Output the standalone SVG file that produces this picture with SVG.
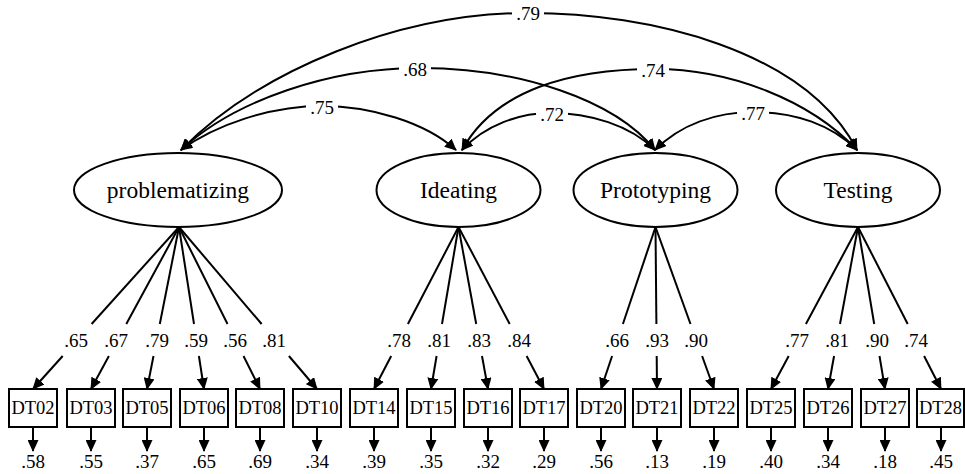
<svg xmlns="http://www.w3.org/2000/svg" width="965" height="474" viewBox="0 0 965 474" font-family="'Liberation Serif', 'DejaVu Serif', 'Times New Roman', serif">
<defs>
<marker id="ah" viewBox="0 0 12 11" refX="11" refY="5.5" markerWidth="12" markerHeight="11" markerUnits="userSpaceOnUse" orient="auto-start-reverse">
<path d="M0,0 L12,5.5 L0,11 z" fill="#000"/>
</marker>
</defs>
<style>
.lat{fill:#fff;stroke:#000;stroke-width:2}
.ind{fill:#fff;stroke:#000;stroke-width:2}
.lt{font-size:23.5px;text-anchor:middle}
.it{font-size:18.5px;text-anchor:middle}
.n{font-size:19px;text-anchor:middle}
.c{fill:none;stroke:#000;stroke-width:2}
.a{marker-end:url(#ah)}
.d{marker-start:url(#ah);marker-end:url(#ah)}
.bg{fill:#fff}
</style>
<rect width="965" height="474" fill="#fff"/>

<g id="connectors">
<path class="c d" d="M181,150 C260,70 400,13 528,13 C650,13 805,50 857,150"/>
<path class="c d" d="M181,150 C235,100 330,68 420,68 C520,68 615,100 655,150"/>
<path class="c d" d="M181,150 C215,125 270,106 322,106 C370,106 425,122 456,150"/>
<path class="c d" d="M462,150 C495,90 570,69 655,69 C730,69 810,100 857,150"/>
<path class="c d" d="M462,150 C485,125 520,113 550,113 C590,113 630,125 655,150"/>
<path class="c d" d="M655,150 C680,125 715,112 755,112 C795,112 832,125 857,150"/>
<rect class="bg" x="512" y="4" width="32" height="18"/><text class="n" x="528" y="20">.79</text>
<rect class="bg" x="399" y="59" width="32" height="18"/><text class="n" x="415" y="76">.68</text>
<rect class="bg" x="306" y="97" width="32" height="18"/><text class="n" x="322" y="114">.75</text>
<rect class="bg" x="637" y="60" width="32" height="18"/><text class="n" x="653" y="77">.74</text>
<rect class="bg" x="536" y="104" width="32" height="18"/><text class="n" x="552" y="121">.72</text>
<rect class="bg" x="737" y="103" width="32" height="18"/><text class="n" x="753" y="120">.77</text>

<line class="c" x1="179" y1="227" x2="91.6" y2="324"/><line class="c a" x1="62.7" y1="356" x2="33" y2="389"/>
<line class="c" x1="179" y1="227" x2="126.3" y2="324"/><line class="c a" x1="108.9" y1="356" x2="91" y2="389"/>
<line class="c" x1="179" y1="227" x2="159.8" y2="324"/><line class="c a" x1="153.5" y1="356" x2="147" y2="389"/>
<line class="c" x1="179" y1="227" x2="194" y2="324"/><line class="c a" x1="198.9" y1="356" x2="204" y2="389"/>
<line class="c" x1="179" y1="227" x2="227.5" y2="324"/><line class="c a" x1="243.5" y1="356" x2="260" y2="389"/>
<line class="c" x1="179" y1="227" x2="261.6" y2="324"/><line class="c a" x1="288.9" y1="356" x2="317" y2="389"/>
<text class="n" x="76" y="347">.65</text>
<text class="n" x="116" y="347">.67</text>
<text class="n" x="157" y="347">.79</text>
<text class="n" x="196" y="347">.59</text>
<text class="n" x="235" y="347">.56</text>
<text class="n" x="274" y="347">.81</text>

<line class="c" x1="458.5" y1="227" x2="407.9" y2="324"/><line class="c a" x1="391.2" y1="356" x2="374" y2="389"/>
<line class="c" x1="458.5" y1="227" x2="442" y2="324"/><line class="c a" x1="436.6" y1="356" x2="431" y2="389"/>
<line class="c" x1="458.5" y1="227" x2="476.2" y2="324"/><line class="c a" x1="482" y1="356" x2="488" y2="389"/>
<line class="c" x1="458.5" y1="227" x2="509.7" y2="324"/><line class="c a" x1="526.6" y1="356" x2="544" y2="389"/>
<text class="n" x="399" y="347">.78</text>
<text class="n" x="439" y="347">.81</text>
<text class="n" x="479" y="347">.83</text>
<text class="n" x="519" y="347">.84</text>

<line class="c" x1="655.5" y1="227" x2="622.9" y2="324"/><line class="c a" x1="612.1" y1="356" x2="601" y2="389"/>
<line class="c" x1="655.5" y1="227" x2="656.4" y2="324"/><line class="c a" x1="656.7" y1="356" x2="657" y2="389"/>
<line class="c" x1="655.5" y1="227" x2="690.5" y2="324"/><line class="c a" x1="702.1" y1="356" x2="714" y2="389"/>
<text class="n" x="617" y="347">.66</text>
<text class="n" x="657" y="347">.93</text>
<text class="n" x="696" y="347">.90</text>

<line class="c" x1="858" y1="227" x2="805.9" y2="324"/><line class="c a" x1="788.7" y1="356" x2="771" y2="389"/>
<line class="c" x1="858" y1="227" x2="840" y2="324"/><line class="c a" x1="834.1" y1="356" x2="828" y2="389"/>
<line class="c" x1="858" y1="227" x2="874.2" y2="324"/><line class="c a" x1="879.5" y1="356" x2="885" y2="389"/>
<line class="c" x1="858" y1="227" x2="907.7" y2="324"/><line class="c a" x1="924.1" y1="356" x2="941" y2="389"/>
<text class="n" x="797" y="347">.77</text>
<text class="n" x="837" y="347">.81</text>
<text class="n" x="877" y="347">.90</text>
<text class="n" x="916" y="347">.74</text>

<line class="c a" x1="33" y1="427" x2="33" y2="451"/><text class="n" x="33" y="468">.58</text>
<line class="c a" x1="91" y1="427" x2="91" y2="451"/><text class="n" x="91" y="468">.55</text>
<line class="c a" x1="147" y1="427" x2="147" y2="451"/><text class="n" x="147" y="468">.37</text>
<line class="c a" x1="204" y1="427" x2="204" y2="451"/><text class="n" x="204" y="468">.65</text>
<line class="c a" x1="260" y1="427" x2="260" y2="451"/><text class="n" x="260" y="468">.69</text>
<line class="c a" x1="317" y1="427" x2="317" y2="451"/><text class="n" x="317" y="468">.34</text>
<line class="c a" x1="374" y1="427" x2="374" y2="451"/><text class="n" x="374" y="468">.39</text>
<line class="c a" x1="431" y1="427" x2="431" y2="451"/><text class="n" x="431" y="468">.35</text>
<line class="c a" x1="488" y1="427" x2="488" y2="451"/><text class="n" x="488" y="468">.32</text>
<line class="c a" x1="544" y1="427" x2="544" y2="451"/><text class="n" x="544" y="468">.29</text>
<line class="c a" x1="601" y1="427" x2="601" y2="451"/><text class="n" x="601" y="468">.56</text>
<line class="c a" x1="657" y1="427" x2="657" y2="451"/><text class="n" x="657" y="468">.13</text>
<line class="c a" x1="714" y1="427" x2="714" y2="451"/><text class="n" x="714" y="468">.19</text>
<line class="c a" x1="771" y1="427" x2="771" y2="451"/><text class="n" x="771" y="468">.40</text>
<line class="c a" x1="828" y1="427" x2="828" y2="451"/><text class="n" x="828" y="468">.34</text>
<line class="c a" x1="885" y1="427" x2="885" y2="451"/><text class="n" x="885" y="468">.18</text>
<line class="c a" x1="941" y1="427" x2="941" y2="451"/><text class="n" x="941" y="468">.45</text>
</g>

<g id="problematizing"><ellipse class="lat" cx="178" cy="190" rx="104" ry="37"/><text class="lt" x="178" y="198">problematizing</text></g>
<g id="Ideating"><ellipse class="lat" cx="458.5" cy="190" rx="82" ry="37"/><text class="lt" x="458.5" y="198">Ideating</text></g>
<g id="Prototyping"><ellipse class="lat" cx="655.5" cy="190" rx="82" ry="37"/><text class="lt" x="655.5" y="198">Prototyping</text></g>
<g id="Testing"><ellipse class="lat" cx="858" cy="190" rx="82" ry="37"/><text class="lt" x="858" y="198">Testing</text></g>

<g id="DT02"><rect class="ind" x="9" y="389" width="48" height="38"/><text class="it" x="33" y="414">DT02</text></g>
<g id="DT03"><rect class="ind" x="67" y="389" width="48" height="38"/><text class="it" x="91" y="414">DT03</text></g>
<g id="DT05"><rect class="ind" x="123" y="389" width="48" height="38"/><text class="it" x="147" y="414">DT05</text></g>
<g id="DT06"><rect class="ind" x="180" y="389" width="48" height="38"/><text class="it" x="204" y="414">DT06</text></g>
<g id="DT08"><rect class="ind" x="236" y="389" width="48" height="38"/><text class="it" x="260" y="414">DT08</text></g>
<g id="DT10"><rect class="ind" x="293" y="389" width="48" height="38"/><text class="it" x="317" y="414">DT10</text></g>
<g id="DT14"><rect class="ind" x="350" y="389" width="48" height="38"/><text class="it" x="374" y="414">DT14</text></g>
<g id="DT15"><rect class="ind" x="407" y="389" width="48" height="38"/><text class="it" x="431" y="414">DT15</text></g>
<g id="DT16"><rect class="ind" x="464" y="389" width="48" height="38"/><text class="it" x="488" y="414">DT16</text></g>
<g id="DT17"><rect class="ind" x="520" y="389" width="48" height="38"/><text class="it" x="544" y="414">DT17</text></g>
<g id="DT20"><rect class="ind" x="577" y="389" width="48" height="38"/><text class="it" x="601" y="414">DT20</text></g>
<g id="DT21"><rect class="ind" x="633" y="389" width="48" height="38"/><text class="it" x="657" y="414">DT21</text></g>
<g id="DT22"><rect class="ind" x="690" y="389" width="48" height="38"/><text class="it" x="714" y="414">DT22</text></g>
<g id="DT25"><rect class="ind" x="747" y="389" width="48" height="38"/><text class="it" x="771" y="414">DT25</text></g>
<g id="DT26"><rect class="ind" x="804" y="389" width="48" height="38"/><text class="it" x="828" y="414">DT26</text></g>
<g id="DT27"><rect class="ind" x="861" y="389" width="48" height="38"/><text class="it" x="885" y="414">DT27</text></g>
<g id="DT28"><rect class="ind" x="917" y="389" width="47" height="38"/><text class="it" x="940.5" y="414">DT28</text></g>
</svg>
